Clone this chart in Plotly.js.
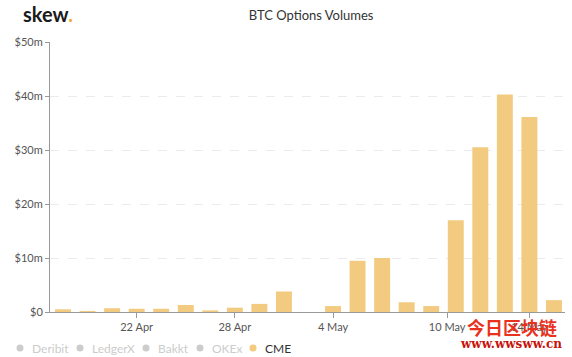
<!DOCTYPE html>
<html>
<head>
<meta charset="utf-8">
<script src="https://cdn.plot.ly/plotly-3.0.1.min.js"></script>
<style>html,body{margin:0;padding:0;background:#fff;}#chart{width:572px;height:357px;}</style>
</head>
<body>
<div id="chart"></div>
<script>
// CME business days (17 Apr – 15 May 2020)
const dates = ['17 Apr','20 Apr','21 Apr','22 Apr','23 Apr','24 Apr','27 Apr','28 Apr','29 Apr','30 Apr',
               '1 May','4 May','5 May','6 May','7 May','8 May','11 May','12 May','13 May','14 May','15 May'];
// CME options volume, $ millions
const cmeVolume = [0.5,0.2,0.7,0.6,0.6,1.3,0.3,0.8,1.5,3.8,
                   0,1.1,9.5,10.0,1.8,1.1,17.0,30.5,40.3,36.1,2.2];
const exchanges = ['Deribit','LedgerX','Bakkt','OKEx','CME'];
const tickLabels = ['22 Apr','28 Apr','4 May','10 May','14 May'];
const tickPos = [3,7,11,15.65,19];
const yTicks = [0,10,20,30,40,50];
const yTickText = ['$0','$10m','$20m','$30m','$40m','$50m'];

const W=572,H=357,mL=50,mR=7,mT=42,mB=45;
const pw=W-mL-mR, ph=H-mT-mB;
const px=x=>(x-mL)/pw, py=y=>(H-mB-y)/ph;

const trace={
  type:'bar', name:'CME',
  x:dates.map((d,i)=>i), y:cmeVolume,
  customdata:dates, hovertemplate:'%{customdata}: $%{y}m<extra></extra>',
  textposition:'none',
  marker:{color:'#f2cb80',line:{width:0}},
  showlegend:false
};

const legendX=[20,80,146,200,253];
const shapes=[], annotations=[];
exchanges.forEach((n,i)=>{
  const on = n==='CME';
  shapes.push({type:'circle',xref:'paper',yref:'paper',xsizemode:'pixel',ysizemode:'pixel',
    xanchor:px(legendX[i]),yanchor:py(348),x0:-3.5,x1:3.5,y0:-3.5,y1:3.5,
    fillcolor:on?'#f2cb80':'#cccccc',line:{width:0}});
  annotations.push({xref:'paper',yref:'paper',x:px(legendX[i]+10),y:py(348),xanchor:'left',yanchor:'middle',
    text:n,showarrow:false,font:{family:'Lato',size:12,color:on?'#333333':'#cccccc'}});
});
annotations.push({xref:'paper',yref:'paper',x:px(21),y:py(14),xanchor:'left',yanchor:'middle',showarrow:false,
  text:'<b>skew</b><span style="color:#f0a93a"><b>.</b></span>',font:{family:'Lato',size:20,color:'#1a1a1a'}});
annotations.push({xref:'paper',yref:'paper',x:px(512),y:py(327),xanchor:'center',yanchor:'middle',showarrow:false,
  text:'<b>今日区块链</b>',font:{family:'Noto Sans CJK SC',size:18,color:'#e8321e'}});
annotations.push({xref:'paper',yref:'paper',x:px(511),y:py(344),xanchor:'center',yanchor:'middle',showarrow:false,
  text:'<b>www.wwsww.cn</b>',font:{family:'DejaVu Serif',size:12,color:'#c8120c'}});

const layout={
  width:W,height:H,
  margin:{l:mL,r:mR,t:mT,b:mB,pad:0},
  paper_bgcolor:'#fff',plot_bgcolor:'#fff',
  font:{family:'Lato',size:11,color:'#555'},
  title:{text:'BTC Options Volumes',x:0.507,xref:'paper',xanchor:'center',y:1-15/H,yanchor:'middle',
    font:{family:'Lato',size:13,color:'#333'}},
  bargap:0.35,
  xaxis:{type:'linear',range:[-0.53,20.45],tickmode:'array',tickvals:tickPos,ticktext:tickLabels,
    showgrid:false,zeroline:false,showline:true,linecolor:'#999',linewidth:1,
    ticks:'outside',ticklen:5,tickcolor:'#999',tickfont:{size:11,color:'#555'},fixedrange:true},
  yaxis:{range:[0,50],tickmode:'array',tickvals:yTicks,ticktext:yTickText,
    showgrid:true,gridcolor:'#ebebeb',griddash:'dash',gridwidth:1,zeroline:false,
    showline:true,linecolor:'#999',linewidth:1,ticks:'outside',ticklen:4,tickcolor:'#999',
    tickfont:{size:11,color:'#555'},fixedrange:true},
  shapes:shapes,annotations:annotations,showlegend:false
};
Plotly.newPlot('chart',[trace],layout,{displayModeBar:false,staticPlot:true});
</script>
</body>
</html>
